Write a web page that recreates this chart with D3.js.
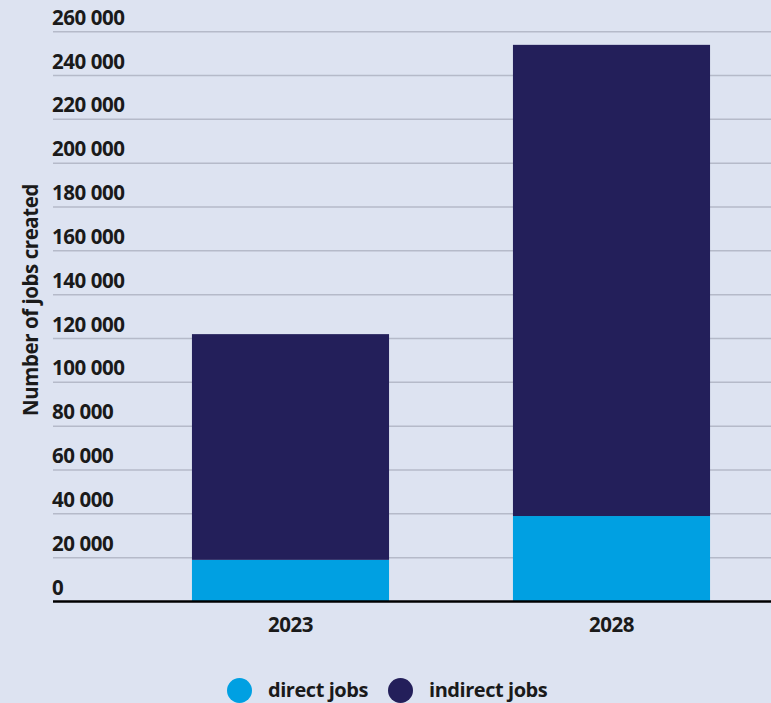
<!DOCTYPE html>
<html><head><meta charset="utf-8">
<script src="https://cdn.jsdelivr.net/npm/d3@7"></script>
<style>
html,body{margin:0;padding:0;background:#dde3f1;}
svg{display:block;}
text{font-family:"Open Sans",sans-serif;font-weight:700;fill:#1a1a1a;}
</style></head>
<body>
<svg id="chart" width="771" height="703"></svg>
<script>
const categories = ["2023", "2028"];
const directJobs = [19000, 39000];
const indirectJobs = [103000, 215000];
const seriesNames = ["direct jobs", "indirect jobs"];
const yTicks = [0,20000,40000,60000,80000,100000,120000,140000,160000,180000,200000,220000,240000,260000];
const colors = ["#00a0e2", "#231f5a"];

const svg = d3.select("#chart");
const W = 771, H = 703;
const FS = 20.5, LS = "-0.45";
svg.append("rect").attr("width", W).attr("height", H).attr("fill", "#dde3f1");

const y = d3.scaleLinear().domain([0, 260000]).range([601.5, 31.7]);
const x = d3.scaleBand().domain(categories).range([130, 772]).paddingInner(0.386).paddingOuter(0.193);

const fmt = v => d3.format(",")(v).replace(/,/g, " ");

// gridlines
const grid = svg.append("g");
grid.selectAll("line").data(yTicks.filter(d => d > 0)).join("line")
  .attr("x1", 53).attr("x2", W)
  .attr("y1", d => y(d)).attr("y2", d => y(d))
  .attr("stroke", "#b5bac9").attr("stroke-width", 1.5);
grid.selectAll("text").data(yTicks).join("text")
  .attr("x", 52).attr("y", d => y(d) - 7)
  .attr("font-size", FS).attr("letter-spacing", LS)
  .text(d => fmt(d));

// stacked data
const rows = categories.map((c, i) => ({cat: c, direct: directJobs[i], indirect: indirectJobs[i]}));
const stack = d3.stack().keys(["direct", "indirect"])(rows);
svg.append("g").selectAll("g").data(stack).join("g")
  .attr("fill", (d, i) => colors[i])
  .selectAll("rect").data(d => d).join("rect")
  .attr("x", d => x(d.data.cat))
  .attr("width", x.bandwidth())
  .attr("y", d => y(d[1]))
  .attr("height", d => y(d[0]) - y(d[1]));

// baseline axis
svg.append("line").attr("x1", 53).attr("x2", W).attr("y1", y(0)).attr("y2", y(0))
  .attr("stroke", "#000").attr("stroke-width", 2.5);

// x labels
svg.append("g").selectAll("text").data(categories).join("text")
  .attr("x", d => x(d) + x.bandwidth() / 2).attr("y", 632)
  .attr("text-anchor", "middle").attr("font-size", FS).attr("letter-spacing", LS)
  .text(d => d);

// y title
svg.append("text")
  .attr("transform", "translate(38,300) rotate(-90)")
  .attr("text-anchor", "middle").attr("font-size", FS).attr("letter-spacing", LS)
  .text("Number of jobs created");

// legend
const legendX = [239.5, 400.5];
const lg = svg.append("g");
seriesNames.forEach((n, i) => {
  lg.append("circle").attr("cx", legendX[i]).attr("cy", 690.5).attr("r", 12.5).attr("fill", colors[i]);
  lg.append("text").attr("x", legendX[i] + 28.5).attr("y", 696.5).attr("font-size", 20).attr("letter-spacing", LS).text(n);
});
</script>
</body></html>
